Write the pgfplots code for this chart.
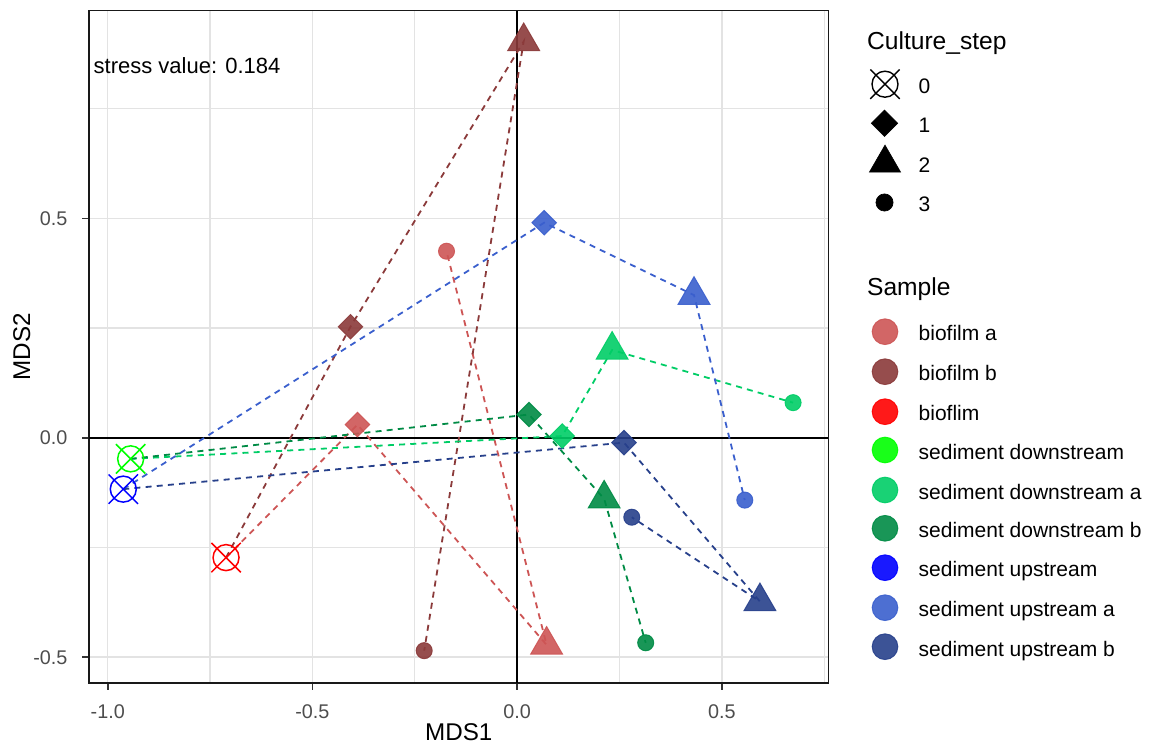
\documentclass[border=0pt]{standalone}
\usepackage{pgfplots}
\pgfplotsset{compat=1.18}
\usepackage{pgfplotstable}
\usepackage{fontspec}
\setmainfont{Liberation Sans}

\definecolor{bflim}{HTML}{FF0000}
\definecolor{bfa}{HTML}{CD5555}
\definecolor{bfb}{HTML}{8B3A3A}
\definecolor{sd}{HTML}{00FF00}
\definecolor{sda}{HTML}{00CD66}
\definecolor{sdb}{HTML}{008B45}
\definecolor{su}{HTML}{0000FF}
\definecolor{sua}{HTML}{3A5FCD}
\definecolor{sub}{HTML}{27408B}
\definecolor{tickgrey}{HTML}{4D4D4D}
\definecolor{gridgrey}{HTML}{E3E3E3}

% circle with a cross that reaches past it (ggplot shape 13)
\pgfdeclareplotmark{xcirc}{%
  \pgfpathcircle{\pgfpointorigin}{\pgfplotmarksize}%
  \pgfpathmoveto{\pgfqpoint{-1.13\pgfplotmarksize}{-1.13\pgfplotmarksize}}%
  \pgfpathlineto{\pgfqpoint{1.13\pgfplotmarksize}{1.13\pgfplotmarksize}}%
  \pgfpathmoveto{\pgfqpoint{-1.13\pgfplotmarksize}{1.13\pgfplotmarksize}}%
  \pgfpathlineto{\pgfqpoint{1.13\pgfplotmarksize}{-1.13\pgfplotmarksize}}%
  \pgfusepathqstroke}
% square diamond
\pgfdeclareplotmark{gdiamond}{%
  \pgfpathmoveto{\pgfqpoint{0pt}{\pgfplotmarksize}}%
  \pgfpathlineto{\pgfqpoint{\pgfplotmarksize}{0pt}}%
  \pgfpathlineto{\pgfqpoint{0pt}{-\pgfplotmarksize}}%
  \pgfpathlineto{\pgfqpoint{-\pgfplotmarksize}{0pt}}%
  \pgfpathclose\pgfusepathqfillstroke}

% x y per culture step 0,1,2,3
\pgfplotstableread{
x y
-0.711 -0.273
-0.390 0.030
0.072 -0.472
-0.1725 0.425
}\biofilmA
\pgfplotstableread{
x y
-0.711 -0.273
-0.407 0.253
0.016 0.903
-0.227 -0.485
}\biofilmB
\pgfplotstableread{
x y
-0.944 -0.048
0.110 0.004
0.232 0.200
0.674 0.080
}\sedDownA
\pgfplotstableread{
x y
-0.944 -0.048
0.029 0.053
0.2125 -0.139
0.314 -0.467
}\sedDownB
\pgfplotstableread{
x y
-0.962 -0.117
0.066 0.490
0.432 0.325
0.556 -0.142
}\sedUpA
\pgfplotstableread{
x y
-0.962 -0.117
0.261 -0.011
0.593 -0.373
0.280 -0.181
}\sedUpB

\pgfplotsset{
  mdspath/.style={no marks, color=#1, line width=0.9pt, dash pattern=on 3pt off 2.6pt},
  pt/.style={only marks, mark options={solid, draw=#1, fill=#1, opacity=0.9, line width=0.5pt}},
  step0/.style={only marks, mark=xcirc, mark size=6.5pt,
    mark options={solid, draw=#1, line width=0.75pt},
    restrict expr to domain={\coordindex}{0:0}},
  step1/.style={pt=#1, mark=gdiamond, mark size=6.1pt, restrict expr to domain={\coordindex}{1:1}},
  step2/.style={pt=#1, mark=triangle*, mark size=9.2pt, restrict expr to domain={\coordindex}{2:2}},
  step3/.style={pt=#1, mark=*, mark size=4.0pt, restrict expr to domain={\coordindex}{3:3}},
}
\newcommand\samplepoints[2]{%
  \addplot[step1=#2] table {#1};
  \addplot[step2=#2] table {#1};
  \addplot[step3=#2] table {#1};
}

\begin{document}
\begin{tikzpicture}
\path[use as bounding box] (-44.65pt,-31.15pt) rectangle (531.85pt,341.35pt);
\begin{axis}[
    at={(0pt,0pt)}, anchor=south west,
    width=369.5pt, height=336pt, scale only axis,
    xmin=-1.045, xmax=0.760, ymin=-0.558, ymax=0.973,
    xtick={-1,-0.5,0,0.5}, xticklabels={-1.0,-0.5,0.0,0.5},
    ytick={-0.5,0,0.5}, yticklabels={-0.5,0.0,0.5},
    minor xtick={-0.75,-0.25,0.25,0.75}, minor ytick={-0.25,0.25,0.75},
    tick align=outside, tick pos=left,
    major tick length=3.6pt, minor tick length=0pt,
    tick style={color=black!80, line width=0.8pt},
    grid=both,
    major grid style={color=gridgrey, line width=0.75pt},
    minor grid style={color=gridgrey, line width=0.6pt},
    axis line style={color=black!90, line width=0.8pt},
    ticklabel style={font=\fontsize{9.9}{11}\selectfont, text=tickgrey, inner sep=0pt},
    xticklabel style={anchor=north, yshift=-7pt},
    yticklabel style={anchor=east, xshift=-7.1pt},
    xlabel={MDS1}, ylabel={MDS2},
    label style={font=\fontsize{12.1}{14}\selectfont},
    xlabel style={at={(axis description cs:0.5,-0.0735)}, anchor=center},
    ylabel style={at={(axis description cs:-0.0915,0.5)}, anchor=center},
  ]
  % reference lines
  \addplot[black, line width=0.9pt, forget plot] coordinates {(-1.045,0) (0.760,0)};
  \addplot[black, line width=0.9pt, forget plot] coordinates {(0,-0.558) (0,0.973)};
  % paths through culture steps
  \addplot[mdspath=bfa] table {\biofilmA};
  \addplot[mdspath=bfb] table {\biofilmB};
  \addplot[mdspath=sda] table {\sedDownA};
  \addplot[mdspath=sdb] table {\sedDownB};
  \addplot[mdspath=sua] table {\sedUpA};
  \addplot[mdspath=sub] table {\sedUpB};
  % step 0 samples
  \addplot[step0=bflim] table {\biofilmA};
  \addplot[step0=sd] table {\sedDownA};
  \addplot[step0=su] table {\sedUpA};
  % later steps
  \samplepoints{\biofilmA}{bfa}
  \samplepoints{\biofilmB}{bfb}
  \samplepoints{\sedDownA}{sda}
  \samplepoints{\sedDownB}{sdb}
  \samplepoints{\sedUpA}{sua}
  \samplepoints{\sedUpB}{sub}
\end{axis}

% legends and annotation, laid out in picture pixels
\begin{axis}[
    at={(-44.65pt,-31.15pt)}, anchor=south west,
    width=576.5pt, height=372.5pt, scale only axis, hide axis,
    xmin=0, xmax=1153, ymin=-745, ymax=0, clip=false,
  ]
  \node[anchor=base west, inner sep=0pt, font=\fontsize{11}{13}\selectfont]
    at (axis cs:93.3,-74) {stress value: 0.184};

  \node[anchor=base west, inner sep=0pt, font=\fontsize{12.3}{14}\selectfont]
    at (axis cs:866.7,-50) {Culture\_step};
  \addplot[only marks, mark=xcirc, mark size=6.5pt, mark options={black, line width=0.7pt}]
    coordinates {(885,-84.2)};
  \addplot[only marks, mark=gdiamond, mark size=6.6pt, mark options={draw=black, fill=black, line width=0.3pt}]
    coordinates {(884.5,-123.3)};
  \addplot[only marks, mark=triangle*, mark size=9.0pt, mark options={draw=black, fill=black, line width=0.3pt}]
    coordinates {(885,-163.1)};
  \addplot[only marks, mark=*, mark size=4.3pt, mark options={draw=black, fill=black, line width=0.3pt}]
    coordinates {(884.5,-202.5)};
  \begin{scope}[every node/.style={anchor=base west, inner sep=0pt, font=\fontsize{10.5}{12}\selectfont}]
    \node at (axis cs:918.3,-93.3) {0};
    \node at (axis cs:918.3,-133) {1};
    \node at (axis cs:918.3,-173) {2};
    \node at (axis cs:918.3,-211.7) {3};
  \end{scope}

  \node[anchor=base west, inner sep=0pt, font=\fontsize{12.3}{14}\selectfont]
    at (axis cs:866.7,-296) {Sample};
  \addplot[pt=bfa, mark=*, mark size=6.4pt] coordinates {(885,-331.7)};
  \addplot[pt=bfb, mark=*, mark size=6.4pt] coordinates {(885,-371.7)};
  \addplot[pt=bflim, mark=*, mark size=6.4pt] coordinates {(885,-411.7)};
  \addplot[pt=sd, mark=*, mark size=6.4pt] coordinates {(885,-450)};
  \addplot[pt=sda, mark=*, mark size=6.4pt] coordinates {(885,-490)};
  \addplot[pt=sdb, mark=*, mark size=6.4pt] coordinates {(885,-528.3)};
  \addplot[pt=su, mark=*, mark size=6.4pt] coordinates {(885,-567.7)};
  \addplot[pt=sua, mark=*, mark size=6.4pt] coordinates {(885,-607.7)};
  \addplot[pt=sub, mark=*, mark size=6.4pt] coordinates {(885,-646.7)};
  \begin{scope}[every node/.style={anchor=base west, inner sep=0pt, font=\fontsize{10.5}{12}\selectfont}]
    \node at (axis cs:918.3,-341) {biofilm a};
    \node at (axis cs:918.3,-381) {biofilm b};
    \node at (axis cs:918.3,-421) {bioflim};
    \node at (axis cs:918.3,-459.3) {sediment downstream};
    \node at (axis cs:918.3,-499.3) {sediment downstream a};
    \node at (axis cs:918.3,-537.6) {sediment downstream b};
    \node at (axis cs:918.3,-577) {sediment upstream};
    \node at (axis cs:918.3,-617) {sediment upstream a};
    \node at (axis cs:918.3,-656) {sediment upstream b};
  \end{scope}
\end{axis}
\end{tikzpicture}
\end{document}
